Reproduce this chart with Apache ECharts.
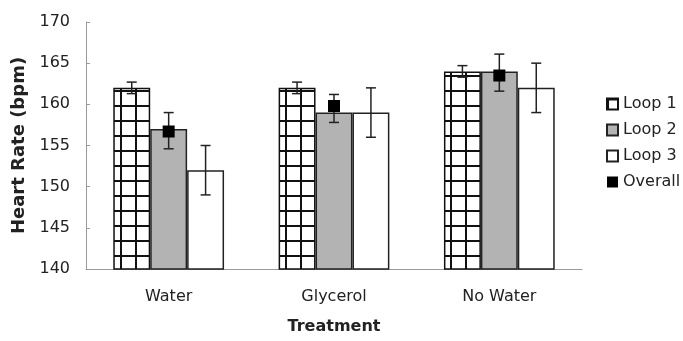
<!DOCTYPE html>
<html>
<head>
<meta charset="utf-8">
<script src="https://cdn.jsdelivr.net/npm/echarts@6/dist/echarts.min.js"></script>
<style>
html,body{margin:0;padding:0;background:#fff;}
#chart{width:683px;height:341px;}
</style>
</head>
<body>
<div id="chart"></div>
<script>
const categories = ['Water', 'Glycerol', 'No Water'];
const loop1 = [162, 162, 164];
const loop2 = [157, 159, 164];
const loop3 = [152, 159, 162];
const overall = [156.7, 159.8, 163.5];
const loop1Low = [161.3, 161.3, 163.3];
const loop1High = [162.7, 162.7, 164.7];
const overallLow = [154.6, 157.8, 161.6];
const overallHigh = [159.0, 161.2, 166.1];
const loop3Low = [149, 156, 159];
const loop3High = [155, 162, 165];
const yMin = 140, yMax = 170, yStep = 5;

// grid pattern for Loop 1
const pc = document.createElement('canvas');
pc.width = 15; pc.height = 15;
const ctx = pc.getContext('2d');
ctx.fillStyle = '#fff';
ctx.fillRect(0, 0, 15, 15);
ctx.fillStyle = '#111';
ctx.fillRect(0, 0, 15, 2);
ctx.fillRect(0, 0, 2, 15);

const fontFam = 'DejaVu Sans';

function errSeries(low, high, offsetFrac) {
  return {
    type: 'custom',
    z: 5,
    data: categories.map((c, i) => [i, low[i], high[i]]),
    renderItem: function (params, api) {
      const i = api.value(0);
      const lo = api.coord([i, api.value(1)]);
      const hi = api.coord([i, api.value(2)]);
      const w = api.size([1, 0])[0];
      const x = lo[0] + offsetFrac * w;
      const cap = 5;
      const st = { stroke: '#222', lineWidth: 1.5 };
      return {
        type: 'group',
        children: [
          { type: 'line', shape: { x1: x, y1: hi[1], x2: x, y2: lo[1] }, style: st },
          { type: 'line', shape: { x1: x - cap, y1: hi[1], x2: x + cap, y2: hi[1] }, style: st },
          { type: 'line', shape: { x1: x - cap, y1: lo[1], x2: x + cap, y2: lo[1] }, style: st }
        ]
      };
    }
  };
}

const chart = echarts.init(document.getElementById('chart'));
const barFrac = (1 - 0.33) / 3;
chart.setOption({
  animation: false,
  backgroundColor: '#fff',
  textStyle: { fontFamily: fontFam },
  grid: { left: 86, right: 101, top: 22, bottom: 72 },
  legend: {
    orient: 'vertical',
    left: 601,
    top: 91,
    icon: 'rect',
    itemWidth: 11,
    itemHeight: 11,
    itemGap: 10,
    data: ['Loop 1', 'Loop 2', 'Loop 3', 'Overall'],
    textStyle: { fontFamily: fontFam, fontSize: 16, color: '#222' }
  },
  xAxis: {
    type: 'category',
    data: categories,
    name: 'Treatment',
    nameLocation: 'middle',
    nameGap: 50,
    nameTextStyle: { fontFamily: fontFam, fontSize: 16, fontWeight: 'bold', color: '#222' },
    axisLine: { lineStyle: { color: '#9a9a9a', width: 1 } },
    axisTick: { show: false },
    axisLabel: { margin: 20, fontSize: 16, color: '#222', fontFamily: fontFam }
  },
  yAxis: {
    type: 'value',
    min: yMin,
    max: yMax,
    interval: yStep,
    name: 'Heart Rate (bpm)',
    nameLocation: 'middle',
    nameGap: 57,
    nameTextStyle: { fontFamily: fontFam, fontSize: 18, fontWeight: 'bold', color: '#222' },
    axisLine: { show: true, lineStyle: { color: '#9a9a9a', width: 1 } },
    axisTick: { show: true, inside: true, length: 4, lineStyle: { color: '#9a9a9a' } },
    splitLine: { show: false },
    axisLabel: { margin: 16, fontSize: 16, color: '#222', fontFamily: fontFam }
  },
  series: [
    {
      name: 'Loop 1', type: 'bar', data: loop1, barGap: '0%', barCategoryGap: '33%',
      itemStyle: { color: { image: pc, repeat: 'repeat' }, borderColor: '#111', borderWidth: 1.5 }
    },
    {
      name: 'Loop 2', type: 'bar', data: loop2,
      itemStyle: { color: '#b3b3b3', borderColor: '#222', borderWidth: 1.5 }
    },
    {
      name: 'Loop 3', type: 'bar', data: loop3,
      itemStyle: { color: '#ffffff', borderColor: '#222', borderWidth: 1.5 }
    },
    {
      name: 'Overall', type: 'scatter', data: overall, symbol: 'rect', symbolSize: 12, z: 10,
      itemStyle: { color: '#000', opacity: 1 }
    },
    errSeries(loop1Low, loop1High, -barFrac),
    errSeries(overallLow, overallHigh, 0),
    errSeries(loop3Low, loop3High, barFrac)
  ]
});
</script>
</body>
</html>
